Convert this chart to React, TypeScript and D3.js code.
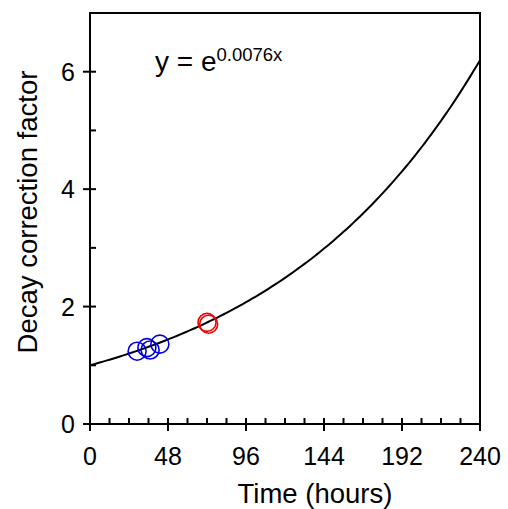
import React, { useEffect, useRef } from 'react';
import * as d3 from 'd3';

// measured points (hours, decay correction factor)
const blueHours = [29, 35, 37, 43];
const blueFactor = [1.24, 1.3, 1.26, 1.36];
const redHours = [72, 73];
const redFactor = [1.73, 1.7];
const rate = 0.0076;
const xTicks = [0, 48, 96, 144, 192, 240];
const yTicks = [0, 2, 4, 6];

const App = () => {
    const svgRef = useRef<SVGSVGElement>(null);

    useEffect(() => {
        const svg = d3.select(svgRef.current);
        svg.selectAll('*').remove();
        const font = '"Liberation Sans", Arial, sans-serif';

        const x = d3.scaleLinear().domain([0, 240]).range([90, 480]);
        const y = d3.scaleLinear().domain([0, 7]).range([424, 13]);

        // frame
        svg.append('rect')
            .attr('x', x(0)).attr('y', y(7))
            .attr('width', x(240) - x(0)).attr('height', y(0) - y(7))
            .attr('fill', 'none').attr('stroke', 'black').attr('stroke-width', 2);

        // ticks: majors cross the axis, minors point inward
        const g = svg.append('g').attr('stroke', 'black').attr('stroke-width', 2);
        d3.range(0, 241, 12).forEach(t => {
            const major = t % 48 === 0;
            g.append('line')
                .attr('x1', x(t)).attr('x2', x(t))
                .attr('y1', major ? y(0) + 7 : y(0))
                .attr('y2', y(0) - 6);
        });
        d3.range(0, 7, 1).forEach(t => {
            const major = t % 2 === 0;
            g.append('line')
                .attr('y1', y(t)).attr('y2', y(t))
                .attr('x1', major ? x(0) - 7 : x(0))
                .attr('x2', x(0) + 6);
        });

        svg.append('g').selectAll('text').data(xTicks).join('text')
            .attr('x', d => x(d)).attr('y', 465)
            .attr('text-anchor', 'middle')
            .attr('font-family', font).attr('font-size', 25)
            .text(d => d);

        svg.append('g').selectAll('text').data(yTicks).join('text')
            .attr('x', x(0) - 15).attr('y', d => y(d))
            .attr('dy', '0.36em')
            .attr('text-anchor', 'end')
            .attr('font-family', font).attr('font-size', 25)
            .text(d => d);

        // axis titles
        svg.append('text')
            .attr('x', 315).attr('y', 503)
            .attr('text-anchor', 'middle')
            .attr('font-family', font).attr('font-size', 27.5)
            .text('Time (hours)');
        svg.append('text')
            .attr('transform', `translate(37,${212}) rotate(-90)`)
            .attr('text-anchor', 'middle')
            .attr('font-family', font).attr('font-size', 27.5)
            .text('Decay correction factor');

        // fitted curve
        const curve = d3.range(0, 240.5, 2).map(h => [h, Math.exp(rate * h)]);
        svg.append('path')
            .datum(curve)
            .attr('fill', 'none').attr('stroke', 'black').attr('stroke-width', 2)
            .attr('d', d3.line<number[]>().x(d => x(d[0])).y(d => y(d[1])));

        // points
        svg.append('g').selectAll('circle').data(blueHours).join('circle')
            .attr('cx', d => x(d)).attr('cy', (d, i) => y(blueFactor[i]))
            .attr('r', 9)
            .attr('fill', 'none').attr('stroke', '#0000dd').attr('stroke-width', 1.6);
        svg.append('g').selectAll('circle').data(redHours).join('circle')
            .attr('cx', d => x(d)).attr('cy', (d, i) => y(redFactor[i]))
            .attr('r', 9)
            .attr('fill', 'none').attr('stroke', '#ee0000').attr('stroke-width', 1.6);

        // equation
        const eq = svg.append('text')
            .attr('x', 155).attr('y', 71)
            .attr('font-family', font).attr('font-size', 28);
        eq.append('tspan').text('y = e');
        eq.append('tspan').attr('font-size', 18.5).attr('dy', -10).text('0.0076x');
    }, []);

    return <svg ref={svgRef} width={508} height={509} style={{ display: 'block', position: 'absolute', left: 0, top: 0 }}></svg>;
};

export default App;
